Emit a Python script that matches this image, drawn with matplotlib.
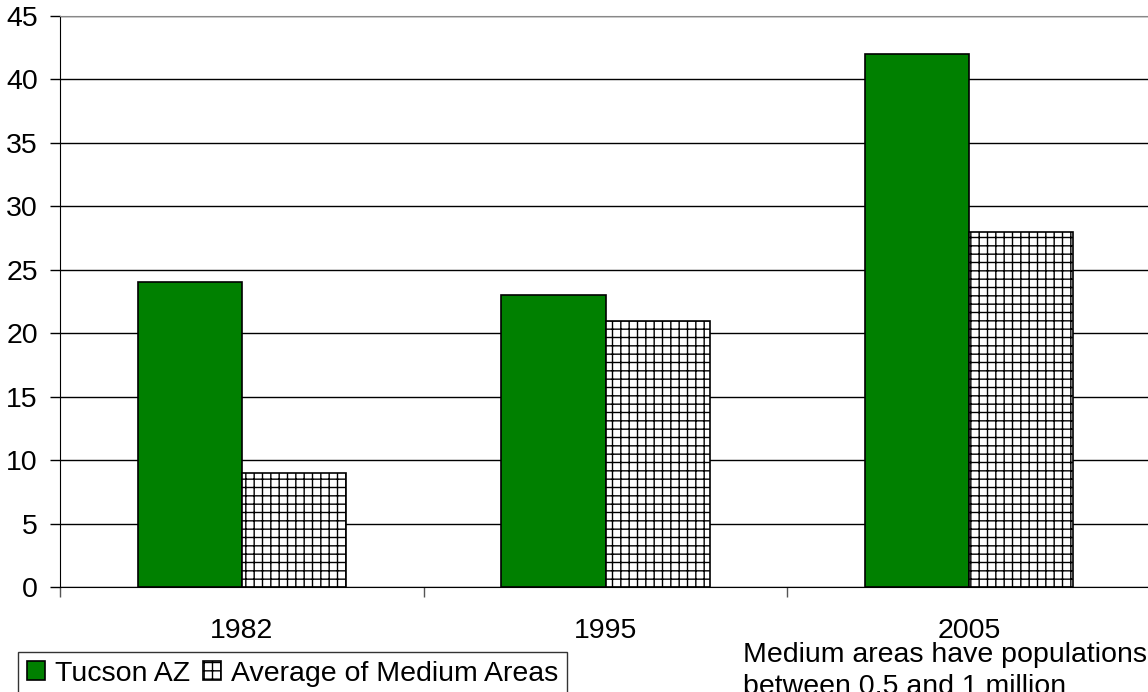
import matplotlib.pyplot as plt
import numpy as np

plt.rcParams['font.family'] = ['Liberation Sans', 'DejaVu Sans']
plt.rcParams['hatch.linewidth'] = 1.0

years = ['1982', '1995', '2005']
tucson = [24, 23, 42]
medium_avg = [9, 21, 28]
note = 'Medium areas have populations\nbetween 0.5 and 1 million'

fig = plt.figure(figsize=(11.48, 6.92), dpi=100)
ax = fig.add_axes([60 / 1148, 1 - 587 / 692, (1151 - 60) / 1148, (587 - 16) / 692])

x = np.arange(len(years))
w = 0.286
b1 = ax.bar(x - w / 2, tucson, w, color='#008000', edgecolor='black', linewidth=1.2, zorder=3)
b2 = ax.bar(x + w / 2, medium_avg, w, color='white', edgecolor='black', hatch='++',
            linewidth=1.2, zorder=3)

ax.set_xlim(-0.5, 2.5)
ax.set_ylim(0, 45)
ax.set_yticks(np.arange(0, 46, 5))
ax.yaxis.grid(True, color='black', linewidth=1.0, zorder=0)
ax.set_axisbelow(True)

ax.set_xticks(x)
ax.set_xticklabels(years)
ax.set_xticks([-0.5, 0.5, 1.5], minor=True)
ax.tick_params(axis='x', which='major', length=0, pad=22, labelsize=20.5)
ax.tick_params(axis='x', which='minor', length=7, width=1, color='#555555')
ax.tick_params(axis='y', length=7, width=1, pad=9, labelsize=20.5)

ax.spines['right'].set_visible(False)
ax.spines['top'].set_color('#888888')
ax.spines['left'].set_color('black')
ax.spines['bottom'].set_color('black')

leg = fig.legend([b1, b2], ['Tucson AZ', 'Average of Medium Areas'], loc='upper left',
                 bbox_to_anchor=(18 / 1148, 1 - 652 / 692), ncol=2, fontsize=20.5,
                 frameon=True, fancybox=False, edgecolor='black', handlelength=0.65,
                 handleheight=0.65, handletextpad=0.35, columnspacing=0.45,
                 borderpad=0.3, borderaxespad=0)
leg.get_frame().set_linewidth(1.0)

fig.text(743 / 1148, 1 - 642 / 692, note, fontsize=20.5, va='top', ha='left', linespacing=1.3)

fig.savefig('out.png', dpi=100)
